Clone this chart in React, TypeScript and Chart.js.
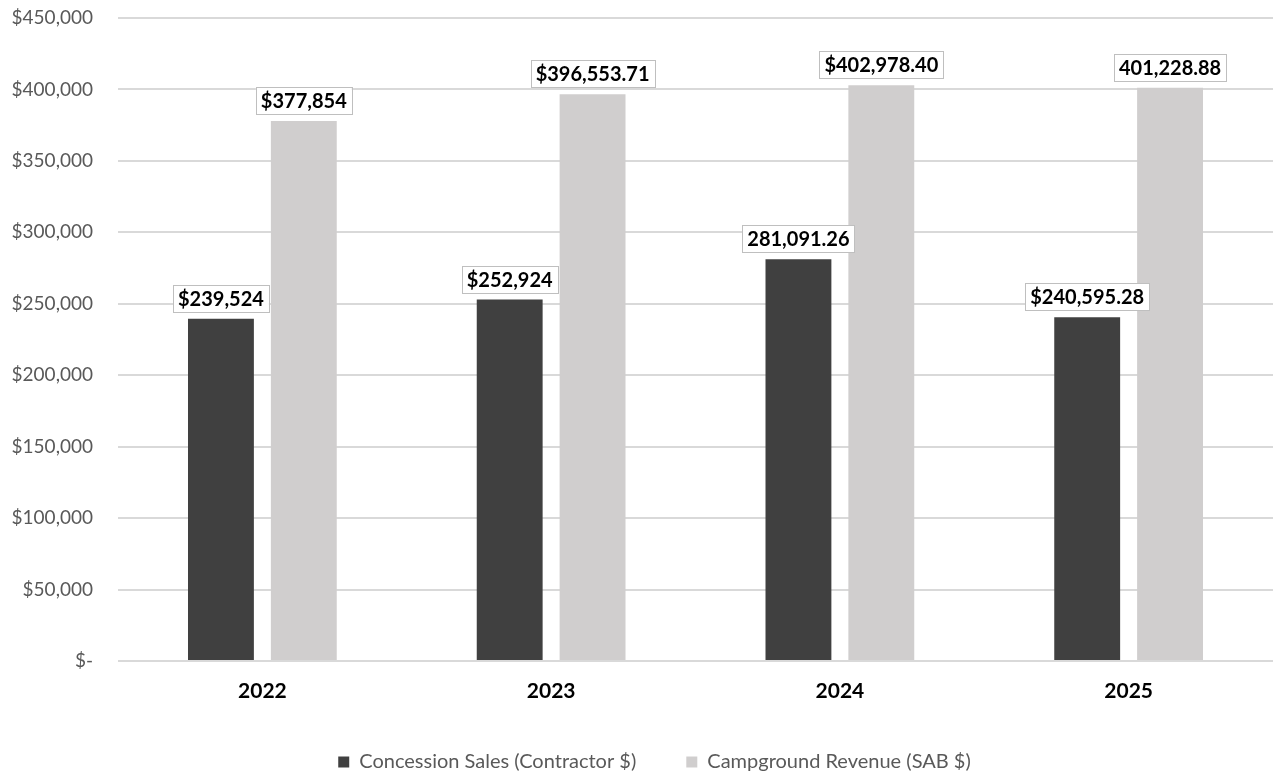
import React, { useEffect, useRef } from "react";
import { Chart, registerables } from "chart.js";

Chart.register(...registerables);

const categories = ["2022", "2023", "2024", "2025"];
const concessionValues = [239524, 252924, 281091.26, 240595.28];
const campgroundValues = [377854, 396553.71, 402978.4, 401228.88];
const concessionLabels = ["$239,524", "$252,924", "281,091.26", "$240,595.28"];
const campgroundLabels = ["$377,854", "$396,553.71", "$402,978.40", "401,228.88"];
const seriesNames = ["Concession Sales (Contractor $)", "Campground Revenue (SAB $)"];
const yTickLabel = (v: number) => (v === 0 ? "$-" : "$" + v.toLocaleString("en-US"));

const FONT = "Lato, 'Open Sans', sans-serif";

const labelPlugin = {
  id: "boxLabels",
  afterLayout(chart: any) {
    if (chart.legend) {
      chart.legend.left += 18;
      chart.legend.right += 18;
    }
  },
  afterDatasetsDraw(chart: any) {
    const ctx = chart.ctx;
    const all = [concessionLabels, campgroundLabels];
    ctx.save();
    ctx.font = `bold 20px ${FONT}`;
    ctx.textAlign = "center";
    ctx.textBaseline = "middle";
    chart.data.datasets.forEach((_ds: any, di: number) => {
      const meta = chart.getDatasetMeta(di);
      meta.data.forEach((bar: any, i: number) => {
        const text = all[di][i];
        const w = ctx.measureText(text).width + 10;
        const h = 27;
        const cx = bar.x;
        const bottom = bar.y - 7;
        ctx.fillStyle = "#ffffff";
        ctx.fillRect(cx - w / 2, bottom - h, w, h);
        ctx.strokeStyle = "#bfbfbf";
        ctx.lineWidth = 1;
        ctx.strokeRect(Math.round(cx - w / 2) + 0.5, Math.round(bottom - h) + 0.5, Math.round(w), h);
        ctx.fillStyle = "#000000";
        ctx.fillText(text, cx, bottom - h / 2 + 1);
      });
    });
    ctx.restore();
  },
};

export default function App() {
  const ref = useRef<HTMLCanvasElement | null>(null);
  useEffect(() => {
    if (!ref.current) return;
    const chart = new Chart(ref.current, {
      type: "bar",
      data: {
        labels: categories,
        datasets: [
          {
            label: seriesNames[0],
            data: concessionValues,
            backgroundColor: "#404040",
            categoryPercentage: 0.574,
            barPercentage: 0.795,
          },
          {
            label: seriesNames[1],
            data: campgroundValues,
            backgroundColor: "#d0cece",
            categoryPercentage: 0.574,
            barPercentage: 0.795,
          },
        ],
      },
      options: {
        responsive: true,
        maintainAspectRatio: false,
        animation: false,
        layout: { padding: { top: 18, right: 3, left: 0, bottom: -3 } },
        plugins: {
          legend: {
            position: "bottom",
            labels: {
              boxWidth: 11,
              boxHeight: 11,
              color: "#595959",
              font: { family: FONT, size: 20 },
              padding: 50,
            },
          },
          tooltip: { enabled: false },
        },
        scales: {
          x: {
            grid: { display: false },
            border: { display: false },
            ticks: { color: "#000000", font: { family: FONT, size: 21, weight: "bold" }, padding: 10 },
            afterFit(scale: any) {
              scale.height = 41;
            },
          },
          y: {
            min: 0,
            max: 450000,
            ticks: {
              stepSize: 50000,
              color: "#595959",
              font: { family: FONT, size: 19 },
              padding: 0,
              callback: (v: any) => yTickLabel(Number(v)),
            },
            grid: { color: "#d9d9d9", lineWidth: 2, drawTicks: true, tickLength: 25, tickColor: "rgba(0,0,0,0)" },
            border: { display: false },
            afterFit(scale: any) {
              scale.width = 118;
            },
          },
        },
      },
      plugins: [labelPlugin],
    });
    return () => chart.destroy();
  }, []);
  return (
    <div style={{ position: "fixed", left: 0, top: 0, width: 1276, height: 779, background: "#fff" }}>
      <canvas ref={ref} />
    </div>
  );
}
